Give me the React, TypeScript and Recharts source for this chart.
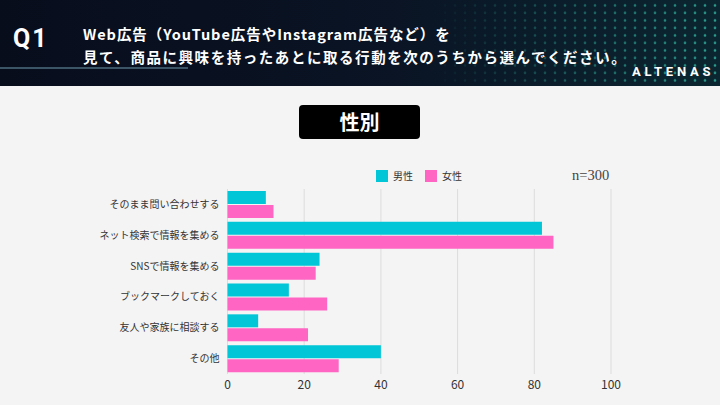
import { BarChart, Bar, XAxis, YAxis, CartesianGrid } from "recharts";

const categories = [
  "そのまま問い合わせする",
  "ネット検索で情報を集める",
  "SNSで情報を集める",
  "ブックマークしておく",
  "友人や家族に相談する",
  "その他",
];
const maleValues = [10, 82, 24, 16, 8, 40];
const femaleValues = [12, 85, 23, 26, 21, 29];
const xTicks = [0, 20, 40, 60, 80, 100];

const JP = '"Noto Sans CJK JP", "Noto Sans", sans-serif';
const MALE = "#00c6d7";
const FEMALE = "#ff66c4";

const chartData = categories.map((name, i) => ({ name, male: maleValues[i], female: femaleValues[i] }));

const LegendBox = () => (
  <div style={{ position: "absolute", left: 376, top: 170, display: "flex", alignItems: "center", fontFamily: JP, fontSize: 10, lineHeight: "12px", color: "#333" }}>
    <span style={{ width: 12, height: 12, background: MALE, display: "inline-block", marginRight: 5 }} />
    <span style={{ marginRight: 12 }}>男性</span>
    <span style={{ width: 12, height: 12, background: FEMALE, display: "inline-block", marginRight: 5 }} />
    <span>女性</span>
  </div>
);

function Header() {
  return (
    <div style={{ position: "absolute", left: 0, top: 0, width: 720, height: 86, background: "linear-gradient(90deg, #080d1c 0%, #0a1424 55%, #0b2630 100%)", overflow: "hidden" }}>
      <svg width={720} height={86} style={{ position: "absolute", left: 0, top: 0 }}>
        <defs>
          <pattern id="dots" x={0} y={2} width={10} height={7.5} patternUnits="userSpaceOnUse">
            <circle cx={5} cy={3.5} r={1.3} fill="#2fae9c" />
          </pattern>
          <linearGradient id="fade" x1="0" x2="1" y1="0" y2="0">
            <stop offset="0" stopColor="#fff" stopOpacity={0} />
            <stop offset="0.35" stopColor="#fff" stopOpacity={0.35} />
            <stop offset="1" stopColor="#fff" stopOpacity={0.9} />
          </linearGradient>
          <mask id="m">
            <rect x={430} y={0} width={290} height={86} fill="url(#fade)" />
          </mask>
        </defs>
        <rect x={430} y={0} width={290} height={86} fill="url(#dots)" mask="url(#m)" />
        <rect x={0} y={67} width={188} height={2} fill="#3b5566" />
      </svg>
      <div style={{ position: "absolute", left: 13, top: 24, color: "#fff", fontFamily: '"Roboto", sans-serif', fontWeight: 700, fontSize: 25, letterSpacing: 2 }}>Q1</div>
      <div style={{ position: "absolute", left: 83, top: 22, color: "#fff", fontFamily: JP, fontWeight: 700, fontSize: 14.5, lineHeight: "23px" }}>
        <div style={{ letterSpacing: 0.95 }}>Web広告（YouTube広告やInstagram広告など）を</div>
        <div style={{ letterSpacing: 1.55 }}>見て、商品に興味を持ったあとに取る行動を次のうちから選んでください。</div>
      </div>
      <div style={{ position: "absolute", left: 632, top: 64, color: "#fff", fontFamily: '"Roboto", sans-serif', fontWeight: 700, fontSize: 13, letterSpacing: 3.8 }}>ALTENAS</div>
    </div>
  );
}

export default function App() {
  return (
    <div style={{ position: "fixed", left: 0, top: 0, width: 720, height: 405, background: "#f4f4f4", overflow: "hidden" }}>
      <Header />
      <div style={{ position: "absolute", left: 299, top: 105, width: 121, height: 34, background: "#000", borderRadius: 4, color: "#fff", fontFamily: JP, fontWeight: 700, fontSize: 20, lineHeight: "34px", textAlign: "center" }}>性別</div>
      <div style={{ position: "absolute", left: 572, top: 167, fontFamily: '"Liberation Serif", serif', fontSize: 14.5, color: "#444" }}>n=300</div>
      <LegendBox />
      <div style={{ position: "absolute", left: 0, top: 0 }}>
        <BarChart width={720} height={405} data={chartData} layout="vertical" margin={{ top: 189, right: 109, bottom: 1, left: 0 }} barSize={13} barGap={1}>
          <CartesianGrid horizontal={false} stroke="#dcdcdc" />
          <XAxis type="number" domain={[0, 100]} ticks={xTicks} height={30} axisLine={false} tickLine={false} tickMargin={0} tick={{ fill: "#333", fontSize: 12, fontFamily: JP }} />
          <YAxis type="category" dataKey="name" width={227.5} axisLine={false} tickLine={false} interval={0} tick={{ fill: "#333", fontSize: 10, fontFamily: JP }} />
          <Bar dataKey="male" name="男性" fill={MALE} isAnimationActive={false} />
          <Bar dataKey="female" name="女性" fill={FEMALE} isAnimationActive={false} />
        </BarChart>
      </div>
    </div>
  );
}
